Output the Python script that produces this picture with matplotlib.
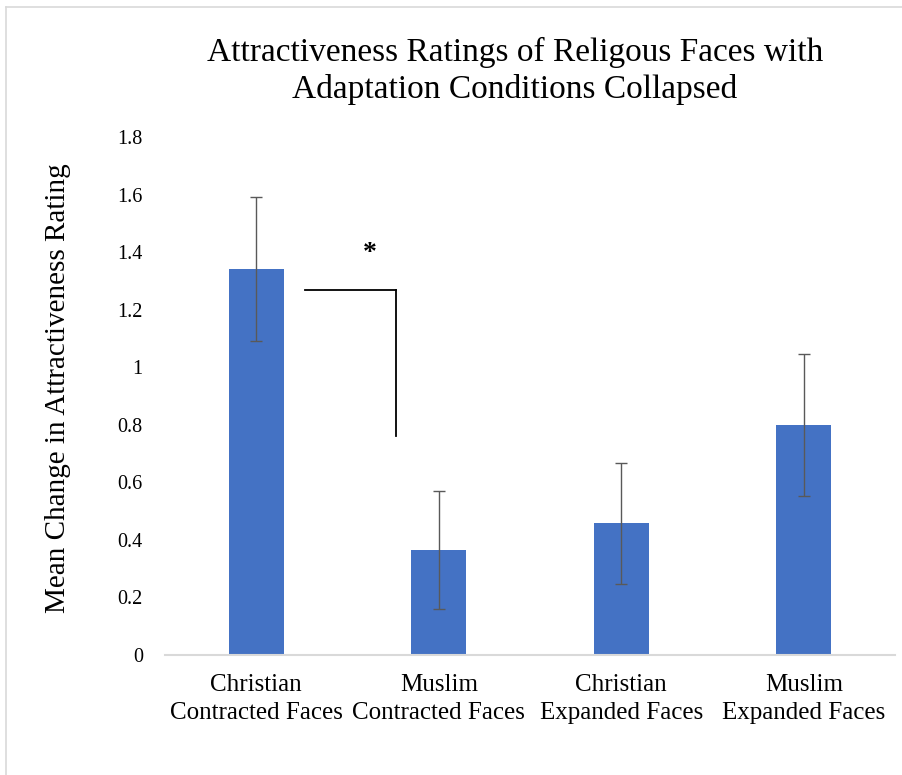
#Bar chart of mean change in attractiveness rating by face type, with SE bars.


import matplotlib
matplotlib.use("Agg")
import matplotlib.pyplot as plt
from matplotlib.lines import Line2D


categories = ["Christian\nContracted Faces", "Muslim\nContracted Faces",
              "Christian\nExpanded Faces", "Muslim\nExpanded Faces"]
means = [1.341, 0.365, 0.457, 0.799]
errors = [0.249, 0.205, 0.211, 0.247]
yticks = [0, 0.2, 0.4, 0.6, 0.8, 1, 1.2, 1.4, 1.6, 1.8]
ytick_labels = ["0", "0.2", "0.4", "0.6", "0.8", "1", "1.2", "1.4", "1.6", "1.8"]


def make_chart(out_path):
    plt.rcParams['font.family'] = ['Liberation Serif', 'DejaVu Serif']

    fig = plt.figure(figsize=(9.03, 7.75), dpi=100)
    ax = fig.add_axes([165/903, 1-655/775, 730/903, 518/775])

    x = list(range(len(categories)))
    ax.bar(x, means, width=0.3, color='#4472C4', zorder=2)
    ax.errorbar(x, means, yerr=errors, fmt='none', ecolor='#595959',
                elinewidth=1.0, capsize=4, capthick=1.0, zorder=3)

    # significance bracket between the two contracted conditions
    ax.plot([0.267, 0.766], [1.268, 1.268], color='black', lw=1.3)
    ax.plot([0.766, 0.766], [1.268, 0.761], color='black', lw=1.3)
    ax.text(0.623, 1.395, '*', ha='center', va='center', fontsize=20,
            fontweight='bold')

    ax.set_xlim(-0.5, 3.5)
    ax.set_ylim(0, 1.8)
    ax.set_xticks(x)
    ax.set_xticklabels(categories, fontsize=18, linespacing=1.35)
    ax.set_yticks(yticks)
    ax.set_yticklabels(ytick_labels, fontsize=14.5)
    ax.tick_params(length=0)
    ax.tick_params(axis='x', pad=14)
    ax.tick_params(axis='y', pad=16)
    for side in ['top', 'right', 'left']:
        ax.spines[side].set_visible(False)
    ax.spines['bottom'].set_color('#d9d9d9')
    ax.spines['bottom'].set_linewidth(1.5)

    ax.set_ylabel('Mean Change in Attractiveness Rating', fontsize=21)
    ax.yaxis.set_label_coords(-0.129, 0.515)

    fig.text(0.570, 0.908, 'Attractiveness Ratings of Religous Faces with\nAdaptation Conditions Collapsed',
             ha='center', va='center', fontsize=24, linespacing=1.25)

    # thin frame at the top and left edges
    fig.add_artist(Line2D([6.5/903, 6.5/903], [0, 1-6.5/775], color='#d9d9d9', lw=1.2))
    fig.add_artist(Line2D([6.5/903, 1], [1-6.5/775, 1-6.5/775], color='#d9d9d9', lw=1.2))

    fig.savefig(out_path, dpi=100)


if __name__ == "__main__":
    make_chart('out.png')
